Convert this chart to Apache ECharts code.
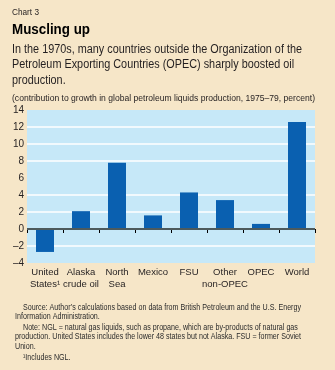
<!DOCTYPE html>
<html>
<head>
<meta charset="utf-8">
<script src="https://cdn.jsdelivr.net/npm/echarts@6/dist/echarts.min.js"></script>
<style>
  html, body { margin: 0; padding: 0; background: #f6e6c8; }
  #chart { width: 335px; height: 370px; }
</style>
</head>
<body>
<div id="chart"></div>
<script>
// Contribution to growth in global petroleum liquids production, 1975–79 (percent)
const categories = ['United\nStates¹', 'Alaska\ncrude oil', 'North\nSea', 'Mexico', 'FSU', 'Other\nnon-OPEC', 'OPEC', 'World'];
const contribution = [-2.7, 2.1, 7.8, 1.6, 4.3, 3.4, 0.6, 12.6];
const yMin = -4;
const yMax = 14;
const yStep = 2;

const FAMILY = '"Liberation Sans", Arial, sans-serif';
const INK = '#231f20';

const chartLabel = 'Chart 3';
const titleText = 'Muscling up';
const subtitleLines = [
  'In the 1970s, many countries outside the Organization of the',
  'Petroleum Exporting Countries (OPEC) sharply boosted oil',
  'production.'
];
const unitsText = '(contribution to growth in global petroleum liquids production, 1975\u201379, percent)';
const footLines = [
  'Source: Author\u2019s calculations based on data from British Petroleum and the U.S. Energy',
  'Information Administration.',
  'Note: NGL = natural gas liquids, such as propane, which are by-products of natural gas',
  'production. United States includes the lower 48 states but not Alaska. FSU = former Soviet',
  'Union.',
  '¹Includes NGL.'
];

// The typeface is a condensed grotesque; emulate it by squeezing a regular sans
// horizontally so a reference line of each text block spans its set width.
const measureCtx = document.createElement('canvas').getContext('2d');
function squeeze(text, font, width) {
  measureCtx.font = font;
  return width / measureCtx.measureText(text).width;
}

const F_LABEL = '9px ' + FAMILY;
const F_TITLE = 'bold 14.5px ' + FAMILY;
const F_SUB = '12.5px ' + FAMILY;
const F_UNITS = '9.5px ' + FAMILY;
const F_FOOT = '8.6px ' + FAMILY;

const sLabel = squeeze(chartLabel, F_LABEL, 27);
const sTitle = squeeze(titleText, F_TITLE, 78);
const sSub = squeeze(subtitleLines[0], F_SUB, 290);
const sUnits = squeeze(unitsText, F_UNITS, 303);
const sFoot = squeeze(footLines[0], F_FOOT, 278);

function textEl(text, font, x, y, s, fill) {
  return {
    type: 'text', x: x, y: y, scaleX: s,
    style: { text: text, font: font, fill: fill || INK, align: 'left', verticalAlign: 'middle' }
  };
}

const graphics = [
  textEl(chartLabel, F_LABEL, 12, 12.7, sLabel),
  textEl(titleText, F_TITLE, 12, 30, sTitle, '#000'),
  textEl(unitsText, F_UNITS, 12, 98.7, sUnits)
];
const subY = [49.3, 65, 80.5];
subtitleLines.forEach((t, i) => graphics.push(textEl(t, F_SUB, 12, subY[i], sSub)));
const footY = [307.7, 316.9, 327.7, 337, 346.6, 357.6];
const footX = [23, 15, 23, 15, 15, 23];
footLines.forEach((t, i) => graphics.push(textEl(t, F_FOOT, footX[i], footY[i], sFoot, '#2b2b2b')));

// gridlines: hide the frame edges (-4, 14) and the 6 line
const gridColors = [];
for (let v = yMin; v <= yMax; v += yStep) {
  gridColors.push((v === yMin || v === yMax || v === 6) ? 'rgba(0,0,0,0)' : '#ffffff');
}

const chart = echarts.init(document.getElementById('chart'), null, { renderer: 'canvas' });
chart.setOption({
  backgroundColor: '#f6e6c8',
  animation: false,
  graphic: graphics,
  grid: {
    left: 27, right: 20, top: 110, height: 153,
    show: true, backgroundColor: '#c6e8f8', borderWidth: 0
  },
  xAxis: {
    type: 'category',
    data: categories,
    boundaryGap: true,
    axisLine: { show: false },
    axisTick: { show: true, length: 4, inside: false, lineStyle: { color: '#000', width: 1 } },
    axisLabel: {
      interval: 0, margin: 4, fontFamily: FAMILY, fontSize: 9.5, lineHeight: 11.5, color: INK
    }
  },
  yAxis: {
    type: 'value',
    min: yMin, max: yMax, interval: yStep,
    axisLine: { show: false },
    axisTick: { show: false },
    axisLabel: {
      margin: 3, fontFamily: FAMILY, fontSize: 10, color: INK,
      formatter: v => (v < 0 ? '\u2013' + Math.abs(v) : String(v))
    },
    splitLine: { show: true, lineStyle: { color: gridColors, width: 1.5 } }
  },
  series: [{
    type: 'bar',
    data: contribution,
    barWidth: '50%',
    itemStyle: { color: '#0a60b0' },
    markLine: {
      silent: true, symbol: 'none', label: { show: false },
      lineStyle: { color: '#4d5a5c', width: 2, type: 'solid' },
      data: [{ yAxis: 0 }]
    }
  }]
});
</script>
</body>
</html>
